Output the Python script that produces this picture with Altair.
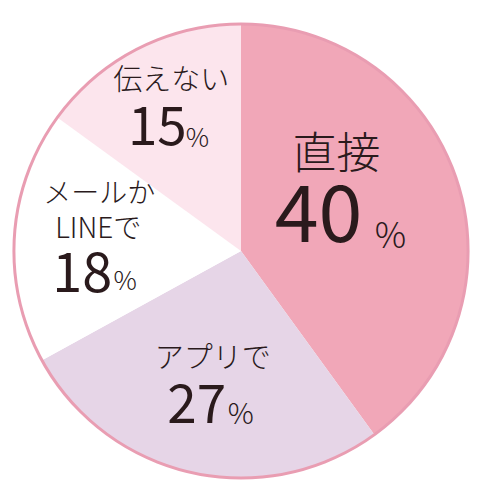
import altair as alt
import pandas as pd

# ---- data ----
names = ["直接", "アプリで", "メールかLINEで", "伝えない"]
line1 = ["直接", "アプリで", "メールか", "伝えない"]
line2 = ["", "", "LINEで", ""]
values = [40, 27, 18, 15]
colors = ["#f1a7b8", "#e6d5e7", "#ffffff", "#fce5ed"]

df = pd.DataFrame({
    "name": names,
    "line1": line1,
    "line2": line2,
    "value": values,
    "order": list(range(len(names))),
    "num": [str(v) for v in values],
    "pct": ["%"] * len(names),
})

# ---- layout / styling (per slice) ----
FONT = "Noto Sans CJK JP"
TXT = "#2a1a1c"
R = 227
layout = [
    # radius, (dx,dy,size) for line1, line2, num, pct
    dict(r=112, l1=(-11, -47, 44), l2=None, num=(-29, 26, 79), pct=(43, 32, 35)),
    dict(r=130, l1=(0, -10, 29), l2=None, num=(-16, 45, 53), pct=(28, 46, 29)),
    dict(r=140, l1=(-2, -39, 28), l2=(-3, -4, 28), num=(-19, 50, 54), pct=(24, 48, 26)),
    dict(r=160, l1=(3, -18, 29), l2=None, num=(-11, 37, 53), pct=(29, 39, 26)),
]
weights = {"l1": 300, "l2": 300, "num": 400, "pct": 300}

base = alt.Chart(df).encode(
    theta=alt.Theta("value:Q", stack=True),
    order=alt.Order("order:Q"),
)

arcs = base.mark_arc(outerRadius=R, strokeWidth=0).encode(
    color=alt.Color("name:N", scale=alt.Scale(domain=names, range=colors), legend=None)
)

ring = alt.Chart(pd.DataFrame({"total": [sum(values)]})).mark_arc(
    outerRadius=R, fillOpacity=0, stroke="#e99db2", strokeWidth=3
).encode(theta="total:Q")

layers = [arcs, ring]
for i, lay in enumerate(layout):
    for key, field in (("l1", "line1"), ("l2", "line2"), ("num", "num"), ("pct", "pct")):
        spec = lay[key]
        if spec is None:
            continue
        dx, dy, size = spec
        layers.append(
            base.mark_text(
                radius=lay["r"], dx=dx, dy=dy, fontSize=size, font=FONT,
                fontWeight=weights[key], color=TXT, align="center", baseline="alphabetic",
            ).encode(
                text=alt.condition(f"datum.order == {i}", alt.Text(f"{field}:N"), alt.value(""))
            )
        )

chart = alt.layer(*layers).properties(
    width=466, height=486, padding=0, autosize="none"
).configure_view(stroke=None)

chart.save("out.html", embed_options={"renderer": "svg", "actions": False})
